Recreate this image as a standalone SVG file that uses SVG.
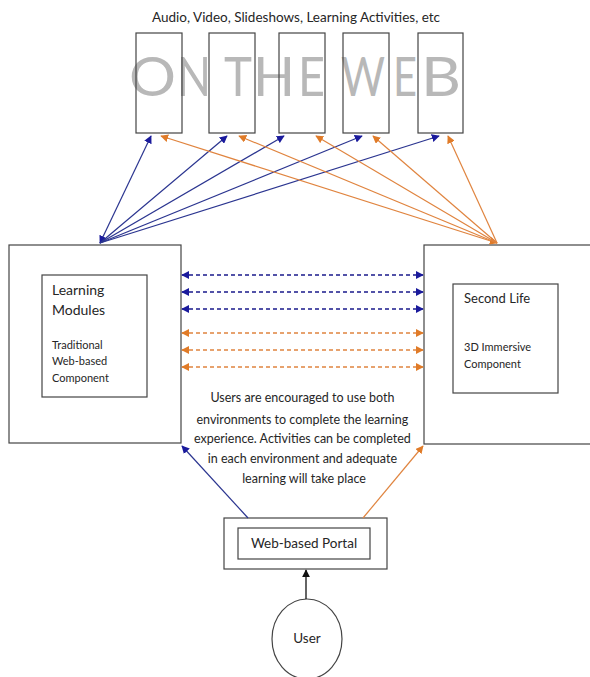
<svg xmlns="http://www.w3.org/2000/svg" width="590" height="677" viewBox="0 0 590 677">
<style>
.box{fill:none;stroke:#444;stroke-width:1.2}
.t{font-family:Lato,"Open Sans",sans-serif;fill:#262626}
.big{font-family:Lato,"Open Sans",sans-serif;font-weight:400;font-size:54px;fill:#b8b8b8}
.bl{stroke:#2b3590;stroke-width:1.2;fill:none}
.or{stroke:#e0843f;stroke-width:1.2;fill:none}
.bld{stroke:#1a1a8c;stroke-width:1.3;stroke-dasharray:4,3;fill:none}
.ord{stroke:#e0843f;stroke-width:1.3;stroke-dasharray:4,3;fill:none}
</style>
<defs>
<marker id="hb" viewBox="0 0 10 10" refX="9" refY="5" markerWidth="8" markerHeight="8" markerUnits="userSpaceOnUse" orient="auto-start-reverse"><path d="M0,0L10,5L0,10Z" fill="#1a1a9c"/></marker>
<marker id="ho" viewBox="0 0 10 10" refX="9" refY="5" markerWidth="8" markerHeight="8" markerUnits="userSpaceOnUse" orient="auto-start-reverse"><path d="M0,0L10,5L0,10Z" fill="#e07b28"/></marker>
<marker id="hk" viewBox="0 0 10 10" refX="9" refY="5" markerWidth="8" markerHeight="8" markerUnits="userSpaceOnUse" orient="auto"><path d="M0,0L10,5L0,10Z" fill="#111"/></marker>
</defs>
<rect width="590" height="677" fill="#fff"/>
<text class="t" x="296" y="22" font-size="13.5" text-anchor="middle" textLength="288" lengthAdjust="spacingAndGlyphs">Audio, Video, Slideshows, Learning Activities, etc</text>
<g id="watermark">
<text class="big" x="129" y="96" textLength="47" lengthAdjust="spacingAndGlyphs">O</text>
<text class="big" x="177" y="96" textLength="34" lengthAdjust="spacingAndGlyphs">N</text>
<text class="big" x="224" y="96" textLength="28" lengthAdjust="spacingAndGlyphs">T</text>
<text class="big" x="253" y="96" textLength="42" lengthAdjust="spacingAndGlyphs">H</text>
<text class="big" x="298" y="96" textLength="27" lengthAdjust="spacingAndGlyphs">E</text>
<text class="big" x="341" y="96" textLength="44" lengthAdjust="spacingAndGlyphs">W</text>
<text class="big" x="393" y="96" textLength="24" lengthAdjust="spacingAndGlyphs">E</text>
<text class="big" x="421" y="96" textLength="40" lengthAdjust="spacingAndGlyphs">B</text>
</g>
<g id="web1"><rect class="box" x="136" y="33" width="46" height="100"/></g>
<g id="web2"><rect class="box" x="209" y="33" width="46" height="100"/></g>
<g id="web3"><rect class="box" x="279" y="33" width="46" height="100"/></g>
<g id="web4"><rect class="box" x="343" y="33" width="46" height="100"/></g>
<g id="web5"><rect class="box" x="418" y="33" width="45" height="100"/></g>
<g id="learning">
<rect class="box" x="9" y="245" width="172" height="198"/>
<rect class="box" x="42" y="275" width="105" height="122"/>
<text class="t" x="52" y="295" font-size="14">Learning</text>
<text class="t" x="52" y="315" font-size="14">Modules</text>
<text class="t" x="52" y="349" font-size="11">Traditional</text>
<text class="t" x="52" y="365" font-size="11">Web-based</text>
<text class="t" x="52" y="382" font-size="11">Component</text>
</g>
<g id="secondlife">
<rect class="box" x="424" y="245" width="170" height="199"/>
<rect class="box" x="453" y="284" width="105" height="109"/>
<text class="t" x="464" y="303" font-size="13">Second Life</text>
<text class="t" x="464" y="351" font-size="11">3D Immersive</text>
<text class="t" x="464" y="368" font-size="11">Component</text>
</g>
<g id="note">
<text class="t" font-size="12.5" text-anchor="middle">
<tspan x="304" y="402">Users are encouraged to use both</tspan>
<tspan x="304" y="424">environments to complete the learning</tspan>
<tspan x="304" y="443">experience. Activities can be completed</tspan>
<tspan x="304" y="463">in each environment and adequate</tspan>
<tspan x="304" y="483">learning will take place</tspan>
</text>
</g>
<g id="portal">
<rect class="box" x="224" y="518" width="163" height="51"/>
<rect class="box" x="238" y="528" width="132" height="31"/>
<text class="t" x="304" y="548" font-size="13.5" text-anchor="middle">Web-based Portal</text>
</g>
<g id="user">
<ellipse class="box" cx="307" cy="639" rx="35" ry="40"/>
<text class="t" x="307" y="643" font-size="13.5" text-anchor="middle">User</text>
</g>
<g id="connectors">
<line class="bl" x1="100" y1="243" x2="151" y2="136" marker-start="url(#hb)" marker-end="url(#hb)"/>
<line class="bl" x1="100" y1="243" x2="227" y2="136" marker-end="url(#hb)"/>
<line class="bl" x1="100" y1="243" x2="284" y2="136" marker-end="url(#hb)"/>
<line class="bl" x1="100" y1="243" x2="362" y2="136" marker-end="url(#hb)"/>
<line class="bl" x1="100" y1="243" x2="439" y2="136" marker-end="url(#hb)"/>
<line class="or" x1="497" y1="243" x2="161" y2="136" marker-start="url(#ho)" marker-end="url(#ho)"/>
<line class="or" x1="497" y1="243" x2="239" y2="136" marker-end="url(#ho)"/>
<line class="or" x1="497" y1="243" x2="316" y2="136" marker-end="url(#ho)"/>
<line class="or" x1="497" y1="243" x2="373" y2="136" marker-end="url(#ho)"/>
<line class="or" x1="497" y1="243" x2="448" y2="136" marker-end="url(#ho)"/>
<line class="bld" x1="182" y1="275" x2="423" y2="275" marker-start="url(#hb)" marker-end="url(#hb)"/>
<line class="bld" x1="182" y1="292" x2="423" y2="292" marker-start="url(#hb)" marker-end="url(#hb)"/>
<line class="bld" x1="182" y1="309" x2="423" y2="309" marker-start="url(#hb)" marker-end="url(#hb)"/>
<line class="ord" x1="182" y1="333" x2="423" y2="333" marker-start="url(#ho)" marker-end="url(#ho)"/>
<line class="ord" x1="182" y1="350" x2="423" y2="350" marker-start="url(#ho)" marker-end="url(#ho)"/>
<line class="ord" x1="182" y1="367" x2="423" y2="367" marker-start="url(#ho)" marker-end="url(#ho)"/>
<line class="bl" x1="248" y1="518" x2="182" y2="446" marker-end="url(#hb)"/>
<line class="or" x1="363" y1="518" x2="423" y2="446" marker-end="url(#ho)"/>
<line stroke="#111" stroke-width="1.3" x1="306" y1="599" x2="306" y2="570" marker-end="url(#hk)"/>
</g>
</svg>
